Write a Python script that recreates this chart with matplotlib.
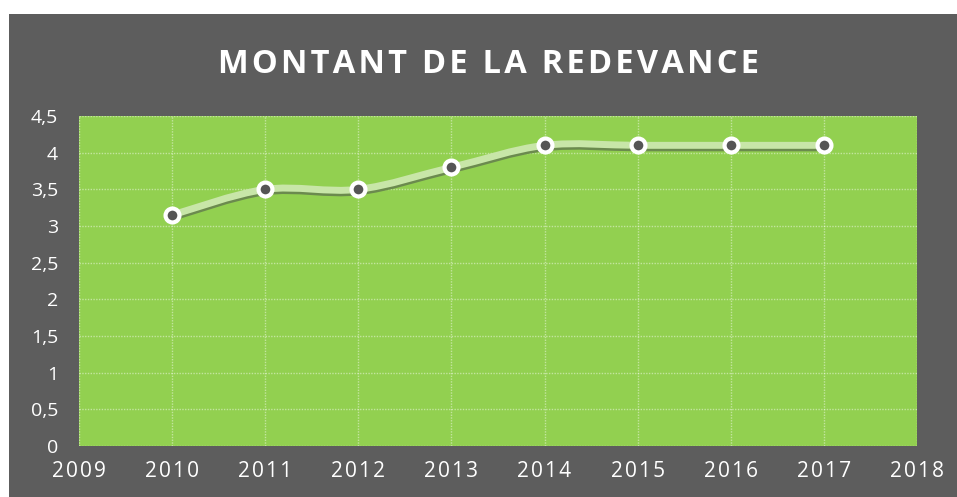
import numpy as np
import matplotlib
matplotlib.use("Agg")
import matplotlib.pyplot as plt
from matplotlib.path import Path
from matplotlib.patches import PathPatch, Rectangle
from matplotlib.transforms import ScaledTranslation

years = [2010, 2011, 2012, 2013, 2014, 2015, 2016, 2017]
montant = [3.15, 3.5, 3.5, 3.8, 4.1, 4.1, 4.1, 4.1]
x_ticks = list(range(2009, 2019))
y_ticks = [0, 0.5, 1, 1.5, 2, 2.5, 3, 3.5, 4, 4.5]
y_labels = ["0", "0,5", "1", "1,5", "2", "2,5", "3", "3,5", "4", "4,5"]
title = "MONTANT DE LA REDEVANCE"

GRAY = "#5d5d5d"
GREEN = "#92d050"
FONT = ["Open Sans", "DejaVu Sans"]


def spaced(s, sep="\u200a"):
    return sep.join(s)


def smooth_path(x, y, k=1 / 6):
    # bezier through the points, like Excel's smoothed line
    x = np.asarray(x, float)
    y = np.asarray(y, float)
    verts = [(x[0], y[0])]
    codes = [Path.MOVETO]
    n = len(x)
    for i in range(n - 1):
        p0 = i - 1 if i > 0 else i
        p3 = i + 2 if i + 2 < n else i + 1
        c1 = (x[i] + (x[i + 1] - x[p0]) * k, y[i] + (y[i + 1] - y[p0]) * k)
        c2 = (x[i + 1] - (x[p3] - x[i]) * k, y[i + 1] - (y[p3] - y[i]) * k)
        verts += [c1, c2, (x[i + 1], y[i + 1])]
        codes += [Path.CURVE4] * 3
    return Path(verts, codes)


fig = plt.figure(figsize=(9.57, 4.97), dpi=100)
fig.patch.set_facecolor("white")
fig.patches.append(Rectangle((9 / 957, 0), 1, 1 - 14 / 497, transform=fig.transFigure,
                             facecolor=GRAY, edgecolor="none", zorder=-10))

ax = fig.add_axes([79 / 957, 1 - 446 / 497, (917 - 79) / 957, (446 - 116) / 497])
ax.set_facecolor(GREEN)
ax.set_xlim(2009, 2018)
ax.set_ylim(0, 4.5)
for s in ax.spines.values():
    s.set_visible(False)

ax.set_xticks(x_ticks)
ax.set_xticklabels([spaced(str(t)) for t in x_ticks], family=FONT, fontsize=15, color="white")
ax.set_yticks(y_ticks)
ax.set_yticklabels(y_labels, family=FONT, fontsize=14, color="white")
ax.tick_params(length=0)
ax.tick_params(axis="y", pad=15)
ax.tick_params(axis="x", pad=11)
ax.grid(True, color="white", alpha=0.45, linestyle=(0, (1, 1)), linewidth=1)
ax.set_axisbelow(True)

path = smooth_path(years, montant)
shadow = PathPatch(path, facecolor="none", edgecolor="#6b8a4e", linewidth=5, capstyle="round",
                   transform=ax.transData + ScaledTranslation(0, -2.5 / 100, fig.dpi_scale_trans))
ax.add_patch(shadow)
line = PathPatch(path, facecolor="none", edgecolor="#c8e6a8", linewidth=5, capstyle="round")
ax.add_patch(line)

ax.plot(years, montant, linestyle="none", marker="o", markersize=10,
        markerfacecolor="#555555", markeredgecolor="white", markeredgewidth=3, zorder=5)

fig.text(489 / 957, 1 - 73 / 497, spaced(title), family=FONT, fontsize=23.5, fontweight="bold",
         color="white", ha="center", va="baseline")

fig.savefig("out.png", dpi=100)
